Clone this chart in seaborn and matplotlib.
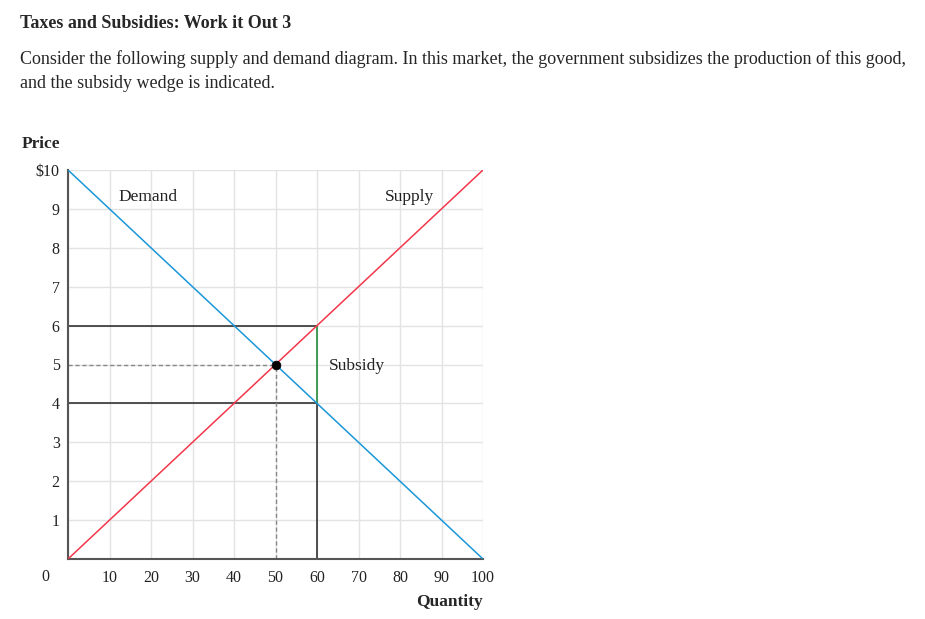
import matplotlib
matplotlib.use("Agg")
import matplotlib.pyplot as plt
import seaborn as sns
import pandas as pd

# ---- data ----
quantity = [0, 100]
supply_price = [0, 10]
demand_price = [10, 0]
x_ticks = [0, 10, 20, 30, 40, 50, 60, 70, 80, 90, 100]
x_tick_labels = ["", "10", "20", "30", "40", "50", "60", "70", "80", "90", "100"]
y_ticks = [0, 1, 2, 3, 4, 5, 6, 7, 8, 9, 10]
y_tick_labels = ["", "1", "2", "3", "4", "5", "6", "7", "8", "9", "$10"]
eq_q, eq_p = [50], [5]
subsidy_q = 60
price_high = 6
price_low = 4

sns.set_theme(style="white")
plt.rcParams["font.family"] = ["Liberation Serif", "DejaVu Serif"]

fig = plt.figure(figsize=(9.25, 6.19), dpi=100)
ax = fig.add_axes([68/925, 1-559/619, (483-68)/925, (559-170)/619])

df_s = pd.DataFrame({"q": quantity, "p": supply_price})
df_d = pd.DataFrame({"q": quantity, "p": demand_price})

ax.set_xlim(0, 100)
ax.set_ylim(0, 10)
ax.set_xticks(x_ticks)
ax.set_yticks(y_ticks)
ax.grid(True, color="#e3e3e3", linewidth=1.0)
ax.set_axisbelow(True)

# helper lines
ax.plot([0, subsidy_q], [price_high, price_high], color="#222222", lw=1.1, zorder=2)
ax.plot([0, subsidy_q], [price_low, price_low], color="#222222", lw=1.1, zorder=2)
ax.plot([subsidy_q, subsidy_q], [0, price_low], color="#222222", lw=1.1, zorder=2)
ax.plot([0, eq_q[0]], [eq_p[0], eq_p[0]], color="#888888", lw=1.0, ls=(0, (3, 2)), zorder=2)
ax.plot([eq_q[0], eq_q[0]], [0, eq_p[0]], color="#888888", lw=1.0, ls=(0, (3, 2)), zorder=2)
ax.plot([subsidy_q, subsidy_q], [price_low, price_high], color="#3f9a52", lw=1.4, zorder=3)

sns.lineplot(data=df_s, x="q", y="p", ax=ax, color="#f2374a", lw=1.1, zorder=4)
sns.lineplot(data=df_d, x="q", y="p", ax=ax, color="#1a97d8", lw=1.1, zorder=4)
sns.scatterplot(x=eq_q, y=eq_p, ax=ax, color="black", s=40, zorder=5, edgecolor="black")

for s in ["top", "right"]:
    ax.spines[s].set_visible(False)
for s in ["left", "bottom"]:
    ax.spines[s].set_color("#555555")
    ax.spines[s].set_linewidth(1.5)

ax.set_xticklabels(x_tick_labels, fontsize=11.5)
ax.set_yticklabels(y_tick_labels, fontsize=11.5)
ax.tick_params(axis="x", length=0, pad=8, colors="#222222")
ax.tick_params(axis="y", length=0, pad=6, colors="#222222")
ax.set_xlabel("")
ax.set_ylabel("")

ax.text(19.3, 9.3, "Demand", fontsize=12.5, ha="center", va="center", color="#222222")
ax.text(82.4, 9.3, "Supply", fontsize=12.5, ha="center", va="center", color="#222222")
ax.text(62.8, 4.97, "Subsidy", fontsize=12.5, ha="left", va="center", color="#222222")

fig.text(45/925, 1-577/619, "0", fontsize=11.5, ha="center", va="center", color="#222222")
fig.text(41/925, 1-144.5/619, "Price", fontsize=12.5, fontweight="bold", ha="center", va="center")
fig.text(483/925, 1-601.5/619, "Quantity", fontsize=12.5, fontweight="bold", ha="right", va="center")

fig.text(20/925, 1-23.5/619, "Taxes and Subsidies: Work it Out 3", fontsize=13, fontweight="bold",
         ha="left", va="center")
fig.text(20/925, 1-59/619,
         "Consider the following supply and demand diagram. In this market, the government subsidizes the production of this good,",
         fontsize=13, ha="left", va="center")
fig.text(20/925, 1-84/619, "and the subsidy wedge is indicated.", fontsize=13, ha="left", va="center")

fig.savefig("out.png", dpi=100, facecolor="white")
